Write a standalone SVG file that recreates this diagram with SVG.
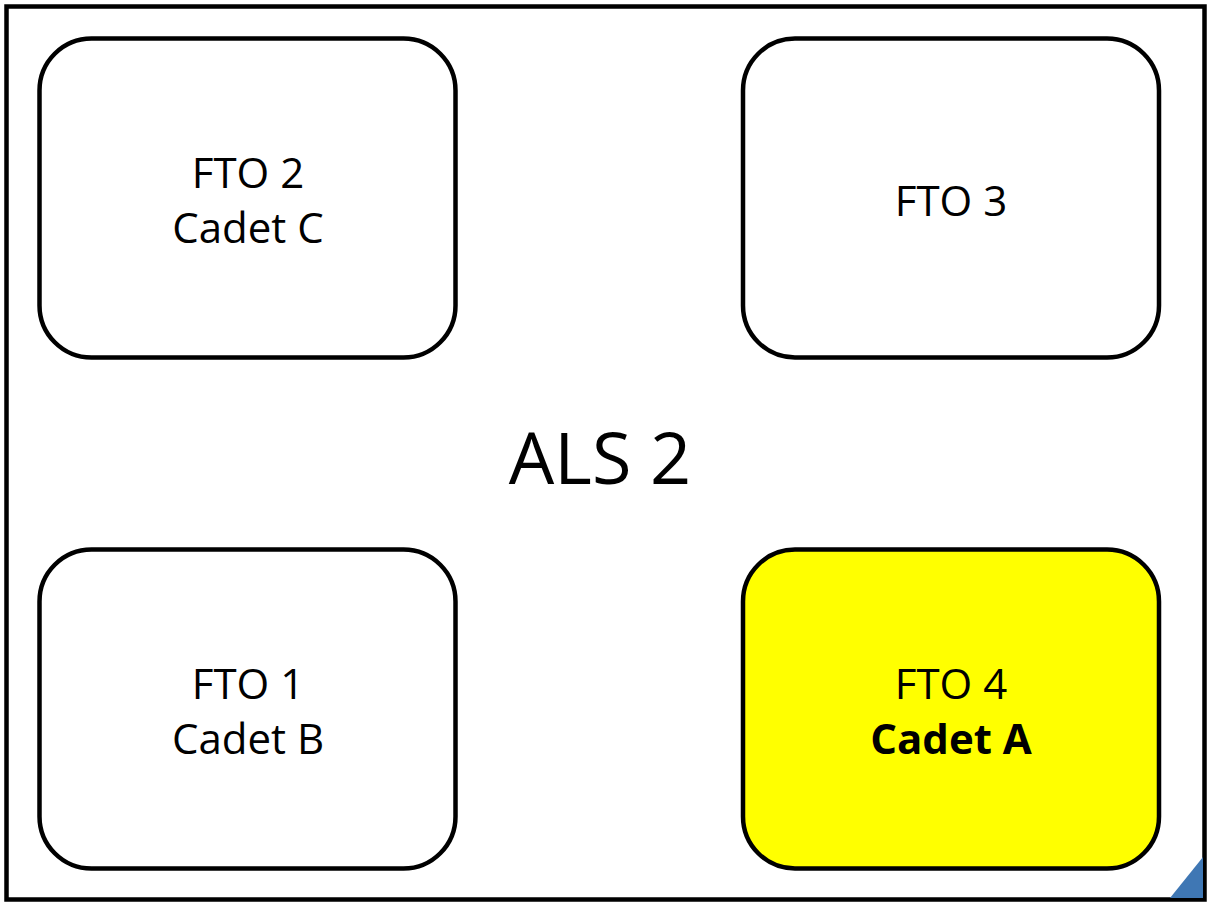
<svg xmlns="http://www.w3.org/2000/svg" width="1209" height="904" viewBox="0 0 1209 904">
<style>
.box{fill:#fff;stroke:#000;stroke-width:4.5}
.hl{fill:#ffff00}
.t{font-family:"Open Sans","Liberation Sans",sans-serif;font-size:42px;fill:#000;text-anchor:middle}
.b{font-weight:bold}
.big{font-family:"Open Sans","Liberation Sans",sans-serif;font-size:72px;fill:#000;text-anchor:middle}
</style>
<rect x="0" y="0" width="1209" height="904" fill="#fff"/>
<rect x="6.5" y="6.5" width="1198" height="893" fill="#fff" stroke="#000" stroke-width="4.5"/>
<polygon points="1170,898 1203,898 1203,857" fill="#3f77b4"/>
<g id="connectors"></g>
<g id="fto2">
<rect class="box" x="39.5" y="38.5" width="416" height="319" rx="52"/>
<text class="t" x="248" y="188">FTO 2</text>
<text class="t" x="248" y="243">Cadet C</text>
</g>
<g id="fto3">
<rect class="box" x="743" y="38.5" width="416" height="319" rx="52"/>
<text class="t" x="951" y="216">FTO 3</text>
</g>
<g id="als2">
<text class="big" x="600" y="484">ALS 2</text>
</g>
<g id="fto1">
<rect class="box" x="39.5" y="549.5" width="416" height="319" rx="52"/>
<text class="t" x="248" y="699">FTO 1</text>
<text class="t" x="248" y="754">Cadet B</text>
</g>
<g id="fto4">
<rect class="box hl" x="743" y="549.5" width="416" height="319" rx="52"/>
<text class="t" x="951" y="699">FTO 4</text>
<text class="t b" x="951" y="754">Cadet A</text>
</g>
</svg>
